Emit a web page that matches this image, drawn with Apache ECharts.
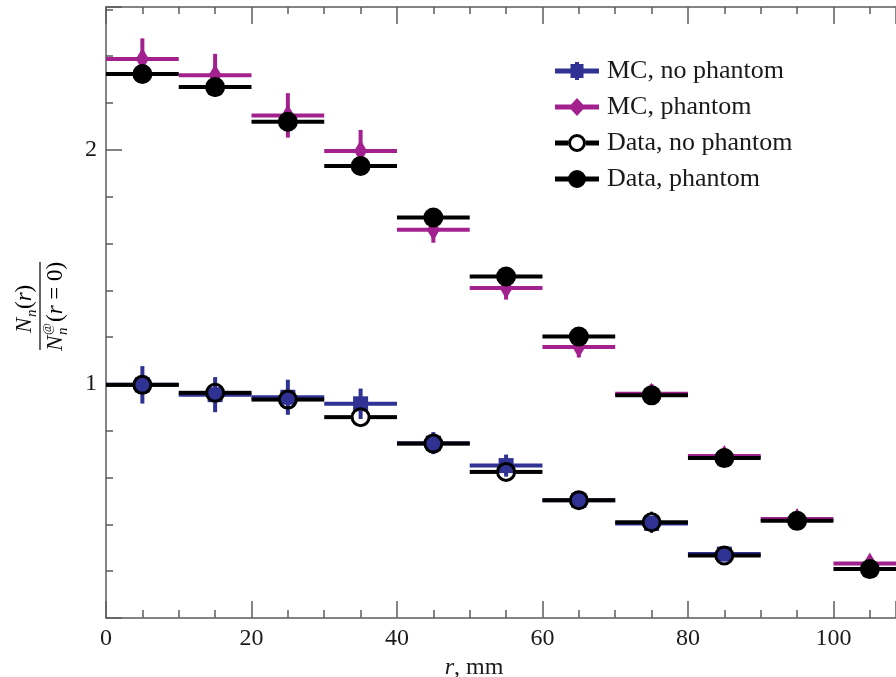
<!DOCTYPE html>
<html><head><meta charset="utf-8">
<script src="https://cdn.jsdelivr.net/npm/echarts@6/dist/echarts.min.js"></script>
<style>html,body{margin:0;padding:0;background:#fff}#c{width:896px;height:677px}</style>
</head><body><div id="c"></div>
<script>
// ---- data ----
const rCentersAll = [5, 15, 25, 35, 45, 55, 65, 75, 85, 95, 105];
const rCentersNoPhantom = [5, 15, 25, 35, 45, 55, 65, 75, 85];
const binHalfWidth = 5;
const mcNoPhantom     = [0.996, 0.954, 0.943, 0.915, 0.747, 0.651, 0.503, 0.404, 0.273];
const mcNoPhantomErr  = [0.080, 0.075, 0.075, 0.065, 0.047, 0.047, 0.030, 0.030, 0.025];
const mcPhantom       = [2.388, 2.318, 2.147, 1.995, 1.659, 1.410, 1.158, 0.958, 0.692, 0.423, 0.233];
const mcPhantomErr    = [0.088, 0.092, 0.095, 0.090, 0.056, 0.050, 0.045, 0.040, 0.035, 0.030, 0.030];
const dataNoPhantom   = [0.996, 0.962, 0.933, 0.858, 0.745, 0.624, 0.503, 0.409, 0.267];
const dataNoPhantomErr= [0.030, 0.030, 0.030, 0.030, 0.030, 0.030, 0.030, 0.045, 0.030];
const dataPhantom     = [2.324, 2.268, 2.120, 1.931, 1.711, 1.459, 1.202, 0.951, 0.683, 0.415, 0.209];
const dataPhantomErr  = [0.030, 0.030, 0.030, 0.030, 0.030, 0.030, 0.030, 0.040, 0.030, 0.030, 0.030];
const seriesNames = ['MC, no phantom', 'MC, phantom', 'Data, no phantom', 'Data, phantom'];

const BLUE = '#2f3193', MAGENTA = '#a3218e', BLACK = '#000000';
const SERIF = '"Liberation Serif", "Times New Roman", serif';

function zip(xs, ys, es) { return xs.map((x, i) => i < ys.length ? [x, ys[i], es[i]] : null).filter(Boolean); }

function makeRender(kind, color) {
  return function (params, api) {
    const x = api.value(0), y = api.value(1), e = api.value(2);
    const c = api.coord([x, y]);
    const l = api.coord([x - binHalfWidth, y]);
    const r = api.coord([x + binHalfWidth, y]);
    const t = api.coord([x, y + e]);
    const b = api.coord([x, y - e]);
    const lw = 4;
    const seg = (x1, y1, x2, y2, w) => ({ type: 'line', shape: { x1, y1, x2, y2 }, style: { stroke: color, lineWidth: w || lw } });
    const ch = [];
    if (kind === 'ring') {
      const R = 8.5;
      ch.push(seg(l[0], c[1], c[0] - R, c[1]));
      ch.push(seg(c[0] + R, c[1], r[0], c[1]));
      if (t[1] < c[1] - R) ch.push(seg(c[0], t[1], c[0], c[1] - R, 3));
      if (b[1] > c[1] + R) ch.push(seg(c[0], c[1] + R, c[0], b[1], 3));
      ch.push({ type: 'circle', shape: { cx: c[0], cy: c[1], r: R }, style: { fill: 'none', stroke: color, lineWidth: 3 } });
    } else {
      ch.push(seg(l[0], c[1], r[0], c[1]));
      ch.push(seg(c[0], t[1], c[0], b[1], kind === 'dot' ? 3 : 4));
      if (kind === 'square') {
        ch.push({ type: 'rect', shape: { x: c[0] - 7.5, y: c[1] - 7.5, width: 15, height: 15 }, style: { fill: color } });
      } else if (kind === 'diamond') {
        ch.push({ type: 'polygon', shape: { points: [[c[0], c[1] - 11], [c[0] + 6.5, c[1]], [c[0], c[1] + 11], [c[0] - 6.5, c[1]]] }, style: { fill: color } });
      } else if (kind === 'dot') {
        ch.push({ type: 'circle', shape: { cx: c[0], cy: c[1], r: 10 }, style: { fill: color } });
      }
    }
    return { type: 'group', children: ch };
  };
}

const ICON_SQUARE  = 'path://M0,6.5H15.5V2H20V0H24V2H28.5V6.5H44V11.5H28.5V16H24V18H20V16H15.5V11.5H0Z';
const ICON_DIAMOND = 'path://M0,6.5H16L22,0L28,6.5H44V11.5H28L22,18L16,11.5H0Z';
const ICON_RING    = 'path://M0,6.5H13V11.5H0ZM31,6.5H44V11.5H31ZM13,9A9,9 0 1,1 31,9A9,9 0 1,1 13,9ZM16,9A6,6 0 1,0 28,9A6,6 0 1,0 16,9Z';
const ICON_DOT     = 'path://M0,6.5H44V11.5H0ZM13,9A9,9 0 1,1 31,9A9,9 0 1,1 13,9Z';

const axisColor = '#5c5c5c';
const chart = echarts.init(document.getElementById('c'), null, { renderer: 'canvas' });

const option = {
  animation: false,
  backgroundColor: '#ffffff',
  grid: { left: 106, right: 0, top: 7, bottom: 59, containLabel: false, outerBoundsMode: 'none' },
  legend: {
    orient: 'vertical', left: 555, top: 58, padding: 0,
    itemWidth: 44, itemHeight: 18, itemGap: 10,
    textStyle: { fontFamily: SERIF, fontSize: 26, color: '#1a1a1a', lineHeight: 24, padding: [0, 0, 0, 3] },
    data: [
      { name: seriesNames[0], icon: ICON_SQUARE },
      { name: seriesNames[1], icon: ICON_DIAMOND },
      { name: seriesNames[2], icon: ICON_RING },
      { name: seriesNames[3], icon: ICON_DOT }
    ]
  },
  xAxis: [{
    type: 'value', min: 0, max: 108.6, interval: 20, position: 'bottom',
    axisLine: { show: true, lineStyle: { color: axisColor, width: 1.5 } },
    axisTick: { show: true, inside: true, length: 17, lineStyle: { color: axisColor, width: 1.5 } },
    minorTick: { show: true, splitNumber: 4, length: 8, lineStyle: { color: axisColor, width: 1.5 } },
    splitLine: { show: false },
    axisLabel: { show: true, margin: 9, showMaxLabel: false, fontFamily: SERIF, fontSize: 24, color: '#1a1a1a' },
    name: '{i|r}{n|, mm}', nameLocation: 'middle', nameGap: 31,
    nameTextStyle: { padding: [0, 54, 0, 0], rich: { i: { fontFamily: SERIF, fontSize: 24, fontStyle: 'italic', color: '#1a1a1a' }, n: { fontFamily: SERIF, fontSize: 24, color: '#1a1a1a' } } }
  }, {
    type: 'value', min: 0, max: 108.6, interval: 20, position: 'top',
    axisLine: { show: true, lineStyle: { color: axisColor, width: 1.5 } },
    axisTick: { show: true, inside: true, length: 17, lineStyle: { color: axisColor, width: 1.5 } },
    minorTick: { show: true, splitNumber: 4, length: 7, lineStyle: { color: axisColor, width: 1.5 } },
    splitLine: { show: false },
    axisLabel: { show: false }
  }],
  yAxis: {
    type: 'value', min: 0, max: 2.61, interval: 1,
    axisLine: { show: true, lineStyle: { color: axisColor, width: 1.5 } },
    axisTick: { show: true, inside: true, length: 16, lineStyle: { color: axisColor, width: 1.5 } },
    minorTick: { show: true, splitNumber: 5, length: 7, lineStyle: { color: axisColor, width: 1.5 } },
    splitLine: { show: false },
    axisLabel: { show: true, margin: 9, showMinLabel: false, showMaxLabel: false, fontFamily: SERIF, fontSize: 24, color: '#1a1a1a' }
  },
  graphic: [{
    type: 'group', x: 40, y: 306, rotation: Math.PI / 2,
    children: [
      { type: 'text', x: -27, y: -15, style: { text: 'N', fontFamily: SERIF, fontSize: 23, fontStyle: 'italic', fill: '#111', align: 'left', verticalAlign: 'middle' } },
      { type: 'text', x: -11, y: -8, style: { text: 'n', fontFamily: SERIF, fontSize: 15, fontStyle: 'italic', fill: '#111', align: 'left', verticalAlign: 'middle' } },
      { type: 'text', x: -3, y: -15, style: { text: '{a|(}{b|r}{a|)}', align: 'left', verticalAlign: 'middle', rich: { a: { fontFamily: SERIF, fontSize: 23, color: '#111' }, b: { fontFamily: SERIF, fontSize: 23, fontStyle: 'italic', color: '#111' } } } },
      { type: 'line', shape: { x1: -44, y1: 0, x2: 44, y2: 0 }, style: { stroke: '#111', lineWidth: 1.3 } },
      { type: 'text', x: -45, y: 16, style: { text: 'N', fontFamily: SERIF, fontSize: 23, fontStyle: 'italic', fill: '#111', align: 'left', verticalAlign: 'middle' } },
      { type: 'text', x: -29, y: 23, style: { text: 'n', fontFamily: SERIF, fontSize: 15, fontStyle: 'italic', fill: '#111', align: 'left', verticalAlign: 'middle' } },
      { type: 'text', x: -29, y: 8, style: { text: '@', fontFamily: SERIF, fontSize: 13, fill: '#111', align: 'left', verticalAlign: 'middle' } },
      { type: 'text', x: -16, y: 16, style: { text: '{a|(}{b|r}{a| = 0)}', align: 'left', verticalAlign: 'middle', rich: { a: { fontFamily: SERIF, fontSize: 23, color: '#111' }, b: { fontFamily: SERIF, fontSize: 23, fontStyle: 'italic', color: '#111' } } } }
    ]
  }],
  series: [
    { name: seriesNames[0], type: 'custom', xAxisIndex: 0, itemStyle: { color: BLUE }, renderItem: makeRender('square', BLUE), encode: { x: 0, y: 1 }, data: zip(rCentersNoPhantom, mcNoPhantom, mcNoPhantomErr), z: 2 },
    { name: seriesNames[1], type: 'custom', xAxisIndex: 0, itemStyle: { color: MAGENTA }, renderItem: makeRender('diamond', MAGENTA), encode: { x: 0, y: 1 }, data: zip(rCentersAll, mcPhantom, mcPhantomErr), z: 2 },
    { name: seriesNames[2], type: 'custom', xAxisIndex: 0, itemStyle: { color: BLACK }, renderItem: makeRender('ring', BLACK), encode: { x: 0, y: 1 }, data: zip(rCentersNoPhantom, dataNoPhantom, dataNoPhantomErr), z: 3 },
    { name: seriesNames[3], type: 'custom', xAxisIndex: 0, itemStyle: { color: BLACK }, renderItem: makeRender('dot', BLACK), encode: { x: 0, y: 1 }, data: zip(rCentersAll, dataPhantom, dataPhantomErr), z: 3 }
  ]
};
chart.setOption(option);
</script>
</body></html>
